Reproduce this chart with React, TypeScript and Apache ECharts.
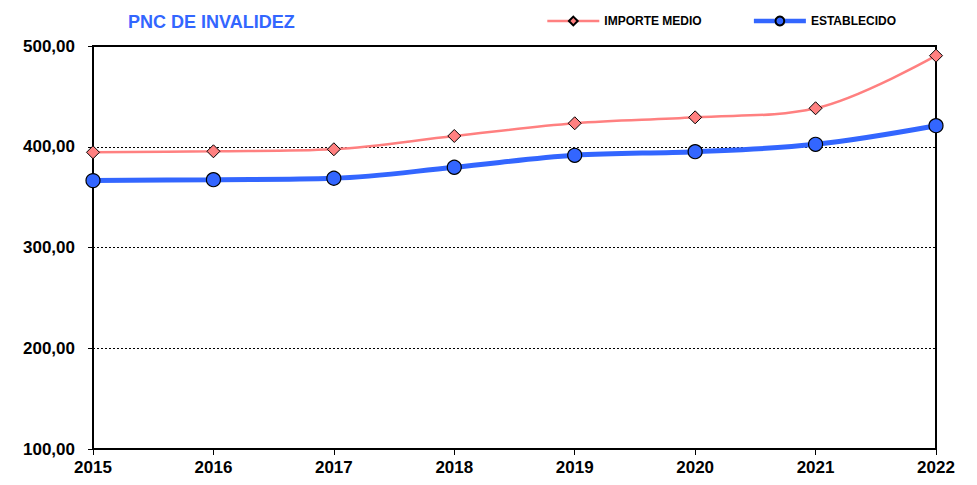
import React, { useEffect, useRef } from "react";
import * as echarts from "echarts";

const years = ["2015", "2016", "2017", "2018", "2019", "2020", "2021", "2022"];
const importeMedio = [394.5, 395.5, 397.5, 410.7, 423.3, 429.2, 438.2, 490.4];
const establecido = [366.4, 367.3, 368.7, 379.6, 391.5, 395.1, 402.4, 420.9];
const titleText = "PNC DE INVALIDEZ";
const seriesNames = ["IMPORTE MEDIO", "ESTABLECIDO"];

const FONT = "'Liberation Sans', Arial, sans-serif";

export default function App() {
  const ref = useRef<HTMLDivElement>(null);
  useEffect(() => {
    if (!ref.current) return;
    const chart = echarts.init(ref.current, null, { renderer: "svg" });
    chart.setOption({
      animation: false,
      backgroundColor: "#ffffff",
      title: {
        text: titleText,
        left: 115,
        top: 0,
        textStyle: { color: "#3366ff", fontSize: 18, fontWeight: "bold", fontFamily: FONT },
      },
      legend: {
        top: 2,
        right: 68,
        itemWidth: 52,
        itemHeight: 11,
        itemGap: 50,
        textStyle: { color: "#000", fontSize: 12, fontWeight: "bold", fontFamily: FONT },
        data: [
          { name: seriesNames[0], lineStyle: { width: 2.5 } },
          { name: seriesNames[1], lineStyle: { width: 4.5 } },
        ],
      },
      grid: {
        left: 85,
        right: 33,
        top: 38,
        bottom: 28,
        show: true,
        borderColor: "#000",
        borderWidth: 2,
        containLabel: false,
      },
      xAxis: {
        type: "category",
        data: years,
        boundaryGap: false,
        axisLine: { show: true, lineStyle: { color: "#000", width: 2 } },
        axisTick: { show: true, length: 6, lineStyle: { color: "#000", width: 1 } },
        axisLabel: { color: "#000", fontSize: 17, fontWeight: "bold", fontFamily: FONT, margin: 10 },
        splitLine: { show: false },
      },
      yAxis: {
        type: "value",
        min: 100,
        max: 500,
        interval: 100,
        axisLine: { show: true, lineStyle: { color: "#000", width: 2 } },
        axisTick: { show: true, length: 5, lineStyle: { color: "#000", width: 1 } },
        axisLabel: {
          color: "#000",
          fontSize: 17,
          fontWeight: "bold",
          fontFamily: FONT,
          margin: 18,
          formatter: (v: number) => v.toFixed(2).replace(".", ","),
        },
        splitLine: { show: true, lineStyle: { color: "#000", width: 1, type: [2, 2] } },
      },
      series: [
        {
          name: seriesNames[0],
          type: "line",
          data: importeMedio,
          smooth: 0.35,
          symbol: "diamond",
          symbolSize: 13,
          z: 3,
          lineStyle: { color: "#ff8080", width: 2.5 },
          itemStyle: { color: "#ff8080", borderColor: "#000", borderWidth: 1 },
        },
        {
          name: seriesNames[1],
          type: "line",
          data: establecido,
          smooth: 0.35,
          symbol: "circle",
          symbolSize: 14,
          z: 4,
          lineStyle: { color: "#3366ff", width: 5 },
          itemStyle: { color: "#3366ff", borderColor: "#000", borderWidth: 1.2 },
        },
      ],
    });
    return () => chart.dispose();
  }, []);
  return <div ref={ref} style={{ width: 961, height: 469 }} />;
}
